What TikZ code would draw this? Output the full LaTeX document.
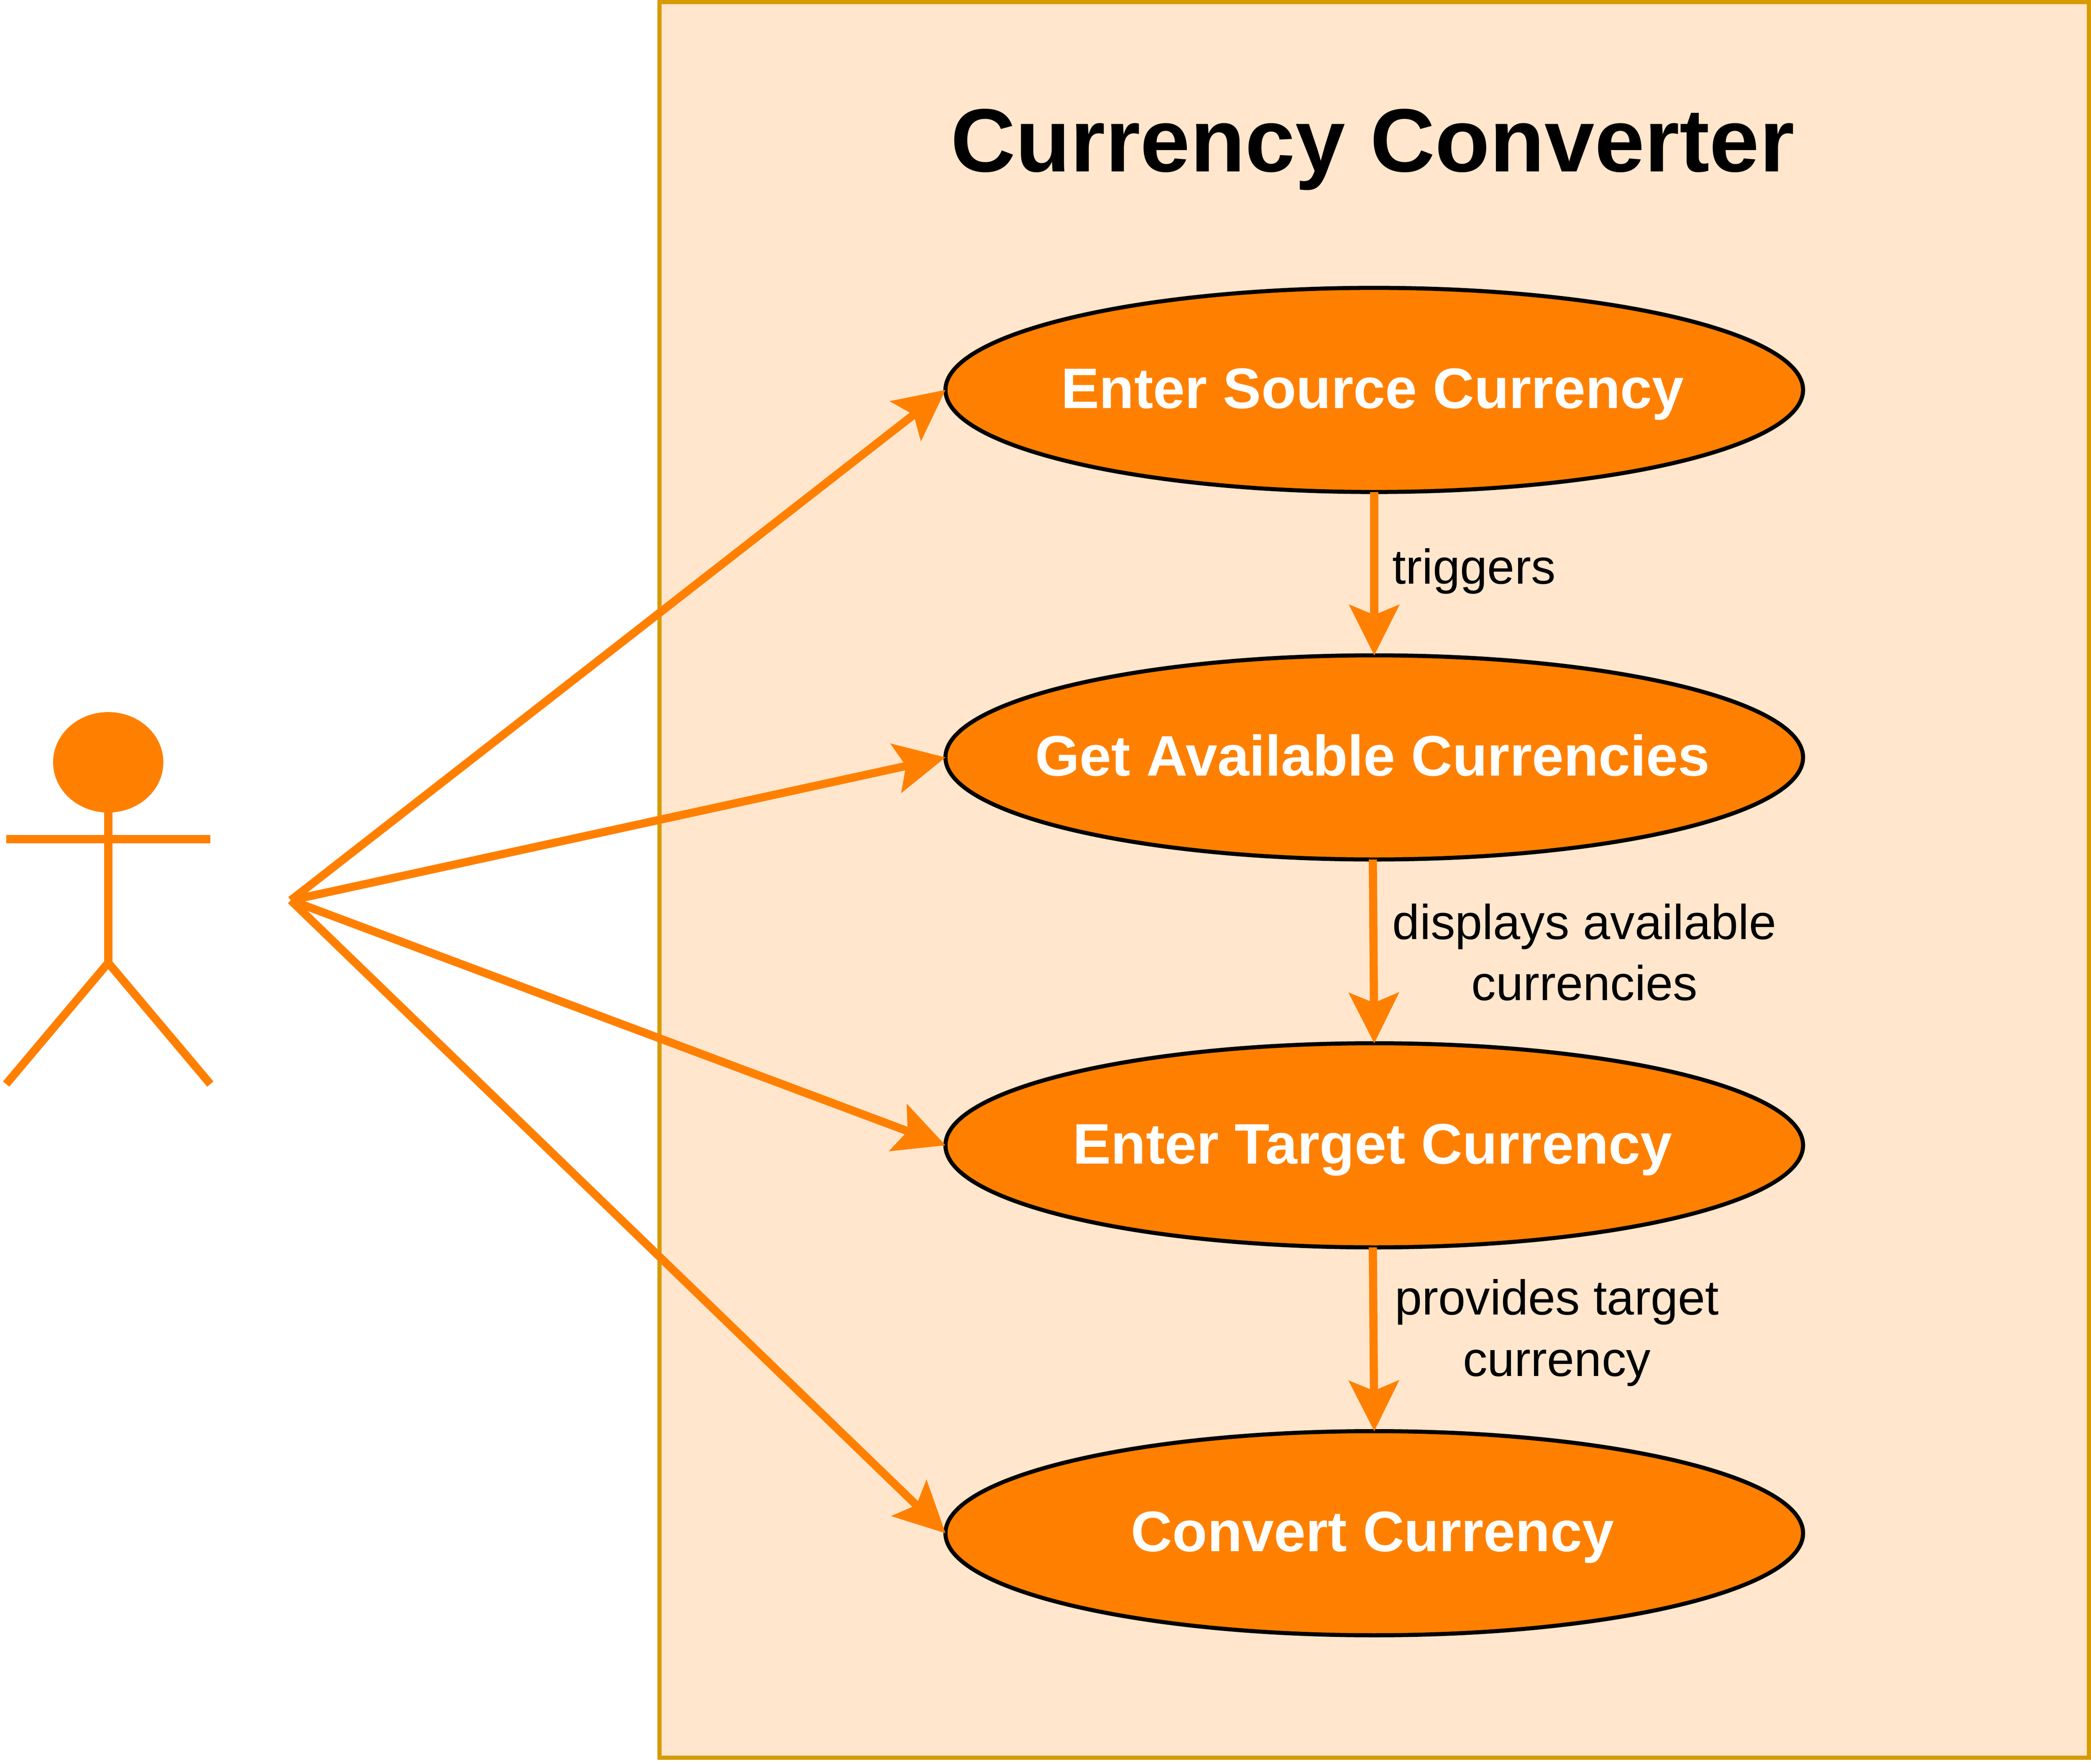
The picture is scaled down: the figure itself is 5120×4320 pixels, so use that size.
\documentclass[tikz,border=0pt]{standalone}
\usepackage{fontspec}
\setmainfont{Liberation Sans}
\usetikzlibrary{arrows.meta,shapes.geometric}
\definecolor{orangeX}{HTML}{FF8000}
\definecolor{boxfill}{HTML}{FFE6CC}
\definecolor{boxline}{HTML}{D79B00}
\newcommand{\casetext}[1]{\raisebox{-4.5pt}[0pt][0pt]{\makebox[0pt][c]{\hspace{-0.8pt}#1}}}
\tikzset{
  usecase/.style={ellipse,draw=black,fill=orangeX,line width=1pt,minimum width=210pt,minimum height=50pt,inner sep=0pt,outer sep=0pt,text=white,font=\fontsize{14}{16.8}\selectfont\bfseries},
  flowlabel/.style={font=\fontsize{12}{15}\selectfont,align=center,inner sep=0pt,text=black,anchor=base},
  link/.style={draw=orangeX,line width=2pt,-{Stealth[length=12.5pt,width=12.5pt,inset=2.6pt,line width=0pt]}},
  limb/.style={draw=orangeX,line width=2pt},
}
\begin{document}
\begin{tikzpicture}[x=0.1pt,y=-0.1pt]
\useasboundingbox (0,0) rectangle (5120,4320);
\node[draw=boxline,fill=boxfill,line width=1pt,minimum width=350pt,minimum height=430pt,inner sep=0pt,outer sep=0pt,anchor=north west] (system) at (1615,5) {};
\node[font=\fontsize{22}{26}\selectfont\bfseries,inner sep=0pt,anchor=base] (title) at (3361,420) {Currency Converter};
\node[usecase] (e1) at (3365,955) {\casetext{Enter Source Currency}};
\node[usecase] (e2) at (3365,1855) {\casetext{Get Available Currencies}};
\node[usecase] (e3) at (3365,2805) {\casetext{Enter Target Currency}};
\node[usecase] (e4) at (3365,3755) {\casetext{Convert Currency}};
% actor
\node[ellipse,fill=orangeX,minimum width=27pt,minimum height=24.6pt,inner sep=0pt,outer sep=0pt] (head) at (265,1867) {};
\coordinate (hip) at (265,2358);
\coordinate (armL) at (15,2055);
\coordinate (armR) at (515,2055);
\coordinate (footL) at (15,2655);
\coordinate (footR) at (515,2655);
\draw[limb] (head.south) -- (hip);
\draw[limb] (armL) -- (armR);
\draw[limb,line join=miter] (footL) -- (hip) -- (footR);
\coordinate (source) at (712,2205);
\draw[link] (source) -- (e1.west);
\draw[link] (source) -- (e2.west);
\draw[link] (source) -- (e3.west);
\draw[link] (source) -- (e4.west);
\draw[link] (e1.south) -- (e2.north);
\draw[link] ([xshift=-0.35pt]e2.south) -- (e3.north);
\draw[link] ([xshift=-0.35pt]e3.south) -- (e4.north);
\node[flowlabel] (l1) at (3609,1430) {triggers};
\node[flowlabel] (l2) at (3880,2450) {displays available\\currencies};
\node[flowlabel] (l3) at (3812,3370) {provides target\\currency};
\end{tikzpicture}
\end{document}
